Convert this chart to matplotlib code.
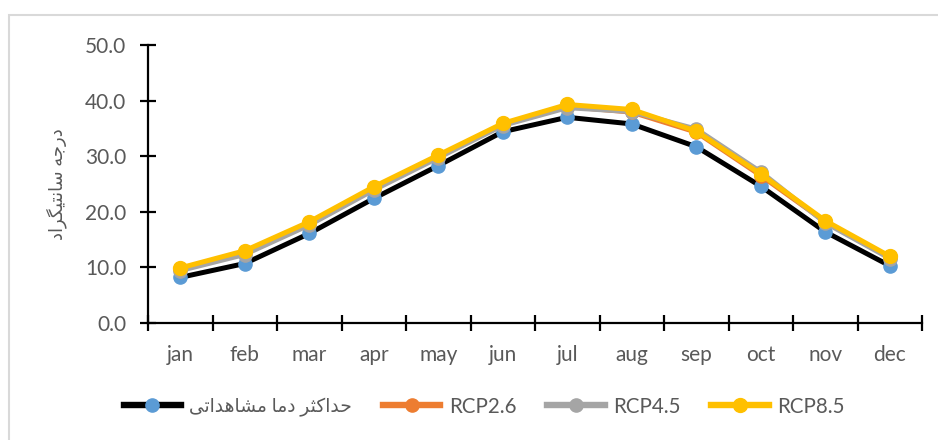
import matplotlib
matplotlib.use("Agg")
import matplotlib.pyplot as plt
from matplotlib.patches import Rectangle
from matplotlib.ticker import FixedLocator, FormatStrFormatter

months = ["jan", "feb", "mar", "apr", "may", "jun", "jul", "aug", "sep", "oct", "nov", "dec"]
observed = [8.2, 10.7, 16.1, 22.4, 28.3, 34.4, 37.0, 35.8, 31.7, 24.6, 16.4, 10.3]
rcp26 = [9.7, 12.6, 17.9, 24.2, 29.9, 35.7, 38.9, 37.9, 34.3, 26.5, 18.2, 11.8]
rcp45 = [9.4, 12.3, 17.6, 23.9, 29.7, 35.5, 38.7, 38.0, 34.9, 27.2, 18.0, 11.6]
rcp85 = [9.9, 13.0, 18.2, 24.5, 30.2, 35.9, 39.3, 38.4, 34.5, 26.8, 18.4, 12.0]
series_names = ["حداکثر دما مشاهداتی", "RCP2.6", "RCP4.5", "RCP8.5"]
y_label = "درجه سانتیگراد"
y_ticks = [0, 10, 20, 30, 40, 50]

# --- minimal Arabic/Persian shaping for display (matplotlib has no RTL shaping) ---
FORMS = {
    "ا": ("\uFE8D", "\uFE8E", None, None),
    "د": ("\uFEA9", "\uFEAA", None, None),
    "ر": ("\uFEAD", "\uFEAE", None, None),
    "ج": ("\uFE9D", "\uFE9E", "\uFE9F", "\uFEA0"),
    "ح": ("\uFEA1", "\uFEA2", "\uFEA3", "\uFEA4"),
    "ه": ("\uFEE9", "\uFEEA", "\uFEEB", "\uFEEC"),
    "س": ("\uFEB1", "\uFEB2", "\uFEB3", "\uFEB4"),
    "ش": ("\uFEB5", "\uFEB6", "\uFEB7", "\uFEB8"),
    "ن": ("\uFEE5", "\uFEE6", "\uFEE7", "\uFEE8"),
    "ت": ("\uFE95", "\uFE96", "\uFE97", "\uFE98"),
    "ث": ("\uFE99", "\uFE9A", "\uFE9B", "\uFE9C"),
    "م": ("\uFEE1", "\uFEE2", "\uFEE3", "\uFEE4"),
    "ی": ("\uFBFC", "\uFBFD", "\uFBFE", "\uFBFF"),
    "گ": ("\uFB92", "\uFB93", "\uFB94", "\uFB95"),
    "ک": ("\uFB8E", "\uFB8F", "\uFB90", "\uFB91"),
}


def shape(text):
    if not any(c in FORMS for c in text):
        return text
    out = []
    n = len(text)
    for i, c in enumerate(text):
        if c not in FORMS:
            out.append(c)
            continue
        iso, fin, ini, med = FORMS[c]
        prev = text[i - 1] if i > 0 else None
        nxt = text[i + 1] if i < n - 1 else None
        jp = prev in FORMS and FORMS[prev][2] is not None
        jn = nxt in FORMS and ini is not None
        if jp and jn:
            out.append(med)
        elif jp:
            out.append(fin)
        elif jn:
            out.append(ini)
        else:
            out.append(iso)
    return "".join(out)[::-1]


plt.rcParams["font.family"] = ["Lato", "DejaVu Sans"]
TXT = "#595959"

fig = plt.figure(figsize=(9.38, 4.4), dpi=100)
ax = fig.add_axes([148 / 938, 1 - 323 / 440, (922 - 148) / 938, (323 - 45) / 440])

x = list(range(len(months)))
ax.plot(x, observed, color="black", lw=3.6, marker="o", ms=9.5,
        mfc="#5B9BD5", mec="#5B9BD5", label=shape(series_names[0]), zorder=3)
ax.plot(x, rcp26, color="#ED7D31", lw=3.4, marker="o", ms=9.5,
        mfc="#ED7D31", mec="#ED7D31", label=series_names[1], zorder=4)
ax.plot(x, rcp45, color="#A5A5A5", lw=3.4, marker="o", ms=9.5,
        mfc="#A5A5A5", mec="#A5A5A5", label=series_names[2], zorder=5)
ax.plot(x, rcp85, color="#FFC000", lw=3.6, marker="o", ms=10,
        mfc="#FFC000", mec="#FFC000", label=series_names[3], zorder=6)

ax.set_xlim(-0.5, len(months) - 0.5)
ax.set_ylim(0, 50)
for s in ["top", "right"]:
    ax.spines[s].set_visible(False)
for s in ["left", "bottom"]:
    ax.spines[s].set_linewidth(1.6)
    ax.spines[s].set_color("black")

ax.set_yticks(y_ticks)
ax.yaxis.set_major_formatter(FormatStrFormatter("%.1f"))
ax.tick_params(axis="y", direction="inout", length=11, width=1.6, pad=10,
               labelsize=15, labelcolor=TXT, color="black")

ax.set_xticks(x)
ax.set_xticklabels(months)
ax.xaxis.set_minor_locator(FixedLocator([i - 0.5 for i in range(len(months) + 1)]))
ax.tick_params(axis="x", which="major", length=0, pad=16, labelsize=15, labelcolor=TXT)
ax.tick_params(axis="x", which="minor", direction="inout", length=11, width=1.6, color="black")

ax.set_ylabel(shape(y_label), fontsize=13, color=TXT, labelpad=13)

leg = fig.legend(loc="center", bbox_to_anchor=(0.516, 1 - 407 / 440), ncol=4, frameon=False,
                 fontsize=14.8, labelcolor=TXT, handlelength=2.8, columnspacing=1.5,
                 handletextpad=0.4, numpoints=1)
leg.get_texts()[0].set_fontsize(13.4)
for ln in leg.get_lines():
    ln.set_linewidth(4.6)

fig.patches.append(Rectangle((9 / 938, -0.2), 1.2, 1.2 - 15.5 / 440,
                             transform=fig.transFigure, fill=False,
                             edgecolor="#D9D9D9", lw=1.5, zorder=0))

fig.savefig("out.png", dpi=100)
